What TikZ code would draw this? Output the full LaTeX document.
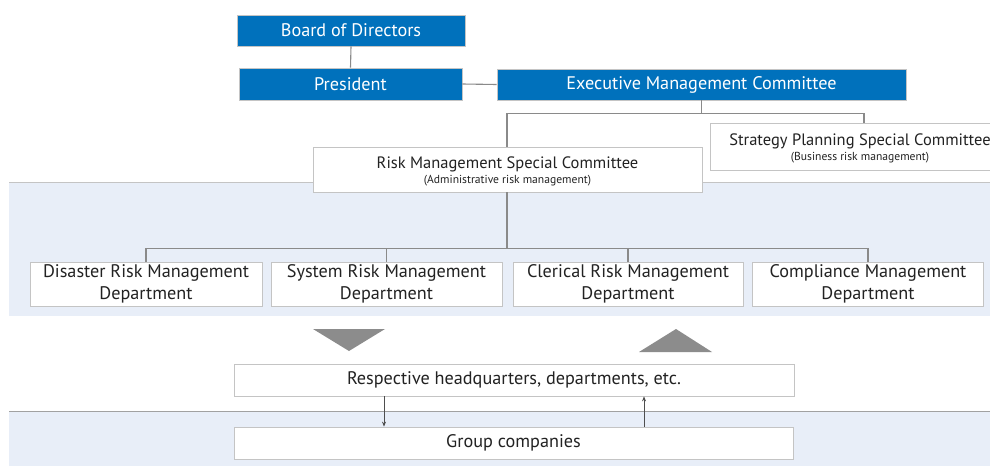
\documentclass[tikz,border=0pt]{standalone}
\usepackage{fontspec}
\setmainfont{PT Sans}
\usetikzlibrary{arrows.meta}
\definecolor{bblue}{HTML}{0071BC}
\definecolor{bandc}{HTML}{E8EEF8}
\definecolor{edgec}{HTML}{C4C4C4}
\definecolor{linec}{HTML}{8A8A8A}
\definecolor{txtc}{HTML}{222222}
\definecolor{trigc}{HTML}{8C8C8C}
\tikzset{
  bluebox/.style={fill=bblue, draw=edgec, line width=0.8pt, text=white, inner sep=0pt, font=\fontsize{18.2}{21}\selectfont},
  whitebox/.style={fill=white, draw=edgec, line width=0.8pt, text=txtc, inner sep=0pt, align=center, font=\fontsize{18.2}{22}\selectfont},
  comtitle/.style={text=txtc, inner sep=0pt, font=\fontsize{16.5}{19}\selectfont},
  comsub/.style={text=txtc, inner sep=0pt, font=\fontsize{11.6}{13}\selectfont},
  conn/.style={draw=linec, line width=1.1pt},
  arr/.style={draw=txtc!80, line width=0.7pt, -{Stealth[length=5pt,width=4pt]}},
  trig/.style={fill=trigc, draw=none},
}
\begin{document}
\begin{tikzpicture}[x=1pt,y=-1pt]
\clip (0,0) rectangle (990,466);
\fill[white] (0,0) rectangle (990,466);
% bands
\fill[bandc] (9,182) rectangle (990,316);
\draw[edgec, line width=0.8pt] (9,182) -- (990,182);
\fill[bandc] (9,411) rectangle (990,466);
\draw[linec!80, line width=0.8pt] (9,411) -- (990,411);
% blue boxes
\node[bluebox, minimum width=228, minimum height=31] (board) at (351,30.5) {Board of Directors};
\node[bluebox, minimum width=223, minimum height=32] (pres) at (350.5,84) {President};
\node[bluebox, minimum width=409, minimum height=31] (emc) at (701.5,84.5) {Executive Management Committee};
% committees
\node[whitebox, minimum width=300, minimum height=47] (spsc) at (860,146.5) {};
\node[comtitle] (spsct) at (860,141.5) {Strategy Planning Special Committee};
\node[comsub] (spscs) at (860,157.5) {(Business risk management)};
\node[whitebox, minimum width=389, minimum height=45] (rmsc) at (507.5,169.5) {};
\node[comtitle] (rmsct) at (507.5,164.5) {Risk Management Special Committee};
\node[comsub] (rmscs) at (507.5,180.5) {(Administrative risk management)};
% departments
\node[whitebox, minimum width=232, minimum height=44] (d1) at (146,284) {Disaster Risk Management\\Department};
\node[whitebox, minimum width=231, minimum height=44] (d2) at (386.5,284) {System Risk Management\\Department};
\node[whitebox, minimum width=230, minimum height=44] (d3) at (628,284) {Clerical Risk Management\\Department};
\node[whitebox, minimum width=231, minimum height=44] (d4) at (868,284) {Compliance Management\\Department};
% bottom boxes
\node[whitebox, minimum width=560, minimum height=32] (resp) at (514,380) {Respective headquarters, departments, etc.};
\node[whitebox, minimum width=559, minimum height=32] (grp) at (513.5,443) {Group companies};
% connectors
\draw[conn] (board.south) -- (pres.north);
\draw[conn] (pres.east) -- (emc.west);
\coordinate (jt) at (701.5,113.5);
\draw[conn] (emc.south) -- (jt);
\draw[conn] (rmsc.north -| 507,0) |- (jt) -| (spsc.north -| 864,0);
\coordinate (jd) at (507,248.5);
\draw[conn] (rmsc.south -| 507,0) -- (jd);
\draw[conn] (d1.north) |- (d4.north |- jd) -- (d4.north);
\draw[conn] (d2.north) -- (d2.north |- jd);
\draw[conn] (d3.north) -- (d3.north |- jd);
% triangles
\fill[trig] (313,329) -- (385,329) -- (349,351) -- cycle;
\fill[trig] (639,352) -- (712,352) -- (676,329) -- cycle;
% arrows
\draw[arr] (resp.south -| 384,0) -- (grp.north -| 384,0);
\draw[arr] (grp.north -| 644,0) -- (resp.south -| 644,0);
\end{tikzpicture}
\end{document}
